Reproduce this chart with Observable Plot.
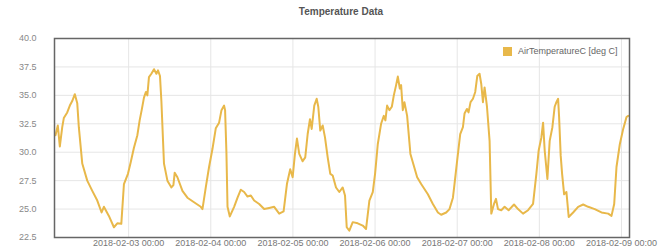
<!DOCTYPE html>
<html>
<head>
<meta charset="utf-8">
<script src="https://cdn.jsdelivr.net/npm/d3@7"></script>
<script src="https://cdn.jsdelivr.net/npm/@observablehq/plot@0.6"></script>
<style>
  html, body { margin: 0; padding: 0; background: #fff; }
  body { width: 663px; height: 250px; position: relative; overflow: hidden; font-family: "Liberation Sans", Arial, sans-serif; }
  #title { height: 28px; line-height: 24px; padding-left: 19px; text-align: center; font-size: 10px; font-weight: bold; color: #555; box-sizing: border-box; width: 663px; }
  #legend { position: absolute; top: 46px; left: 503px; display: flex; align-items: center; font-size: 9px; color: #666; }
  #legend .sw { width: 9px; height: 9px; background: #e8b84a; margin-right: 6px; }
</style>
</head>
<body>
<div id="title">Temperature Data</div>
<div id="chart"></div>
<div id="legend"><div class="sw"></div><span>AirTemperatureC [deg C]</span></div>
<script>
// Hours since 2018-02-02 00:00 (UTC)
const startDate = "2018-02-02T00:00:00Z";
const hours = [
  2.63, 3.31, 3.89, 4.60, 5.06, 6.06, 6.82, 7.52, 8.28, 8.99, 9.45, 10.45, 11.91, 13.38, 14.84,
  16.10, 16.77, 18.23, 19.70, 20.69, 21.86, 22.63, 23.80, 24.59, 25.55, 26.55, 27.22, 27.81, 28.48,
  29.06, 29.47, 29.94, 30.64, 31.41, 32.11, 32.58, 33.16, 33.57, 34.33, 35.33, 36.50, 37.08, 37.46,
  38.25, 39.72, 41.18, 43.11, 45.07, 45.57, 46.54, 47.50, 48.50, 49.46, 50.43, 51.13, 51.89, 52.18,
  52.57, 52.89, 53.56, 54.82, 55.82, 56.78, 57.75, 58.74, 59.71, 60.67, 62.14, 63.60, 65.07, 66.53,
  67.99, 69.28, 70.25, 71.21, 71.92, 72.59, 73.18, 73.85, 74.84, 75.60, 76.31, 76.98, 77.48, 78.24,
  78.94, 79.41, 79.99, 80.70, 81.37, 82.16, 82.92, 83.62, 84.59, 85.55, 86.55, 87.22, 87.72, 88.48,
  89.48, 90.94, 92.40, 93.37, 94.34, 95.33, 96.00, 96.79, 97.76, 98.55, 99.02, 99.52, 100.19, 100.90,
  101.48, 102.15, 102.65, 103.23, 103.61, 104.11, 104.58, 105.37, 106.33, 108.30, 109.47, 111.43,
  112.89, 114.36, 115.32, 116.79, 117.75, 118.75, 119.21, 120.00, 120.88, 121.67, 122.14, 122.84,
  123.31, 123.90, 124.60, 125.27, 125.86, 126.53, 127.03, 127.52, 128.00, 128.70, 129.46, 129.96,
  130.75, 131.33, 131.92, 132.88, 133.85, 135.02, 136.60, 137.77, 139.23, 140.70, 142.16, 143.13,
  143.80, 144.59, 145.09, 145.56, 146.35, 147.02, 147.81, 148.48, 148.98, 149.48, 149.77, 150.24,
  150.65, 151.24, 151.91, 152.58, 153.87, 155.33, 156.80, 158.26, 160.19, 162.15, 164.11, 165.08,
  165.87, 166.54, 167.51, 168.50, 169.47, 169.97
];
const airTemperatureC = [
  31.5, 32.35, 30.5, 32.2, 33.0, 33.5, 34.1, 34.5, 35.1, 34.3, 32.2, 29.0, 27.5, 26.6, 25.75,
  24.7, 25.2, 24.4, 23.4, 23.75, 23.7, 27.2, 28.1, 29.1, 30.4, 31.5, 32.8, 33.7, 34.8,
  35.3, 35.0, 36.6, 36.9, 37.3, 36.9, 37.2, 36.7, 34.5, 29.0, 27.5, 26.9, 27.1, 28.2,
  27.8, 26.6, 26.0, 25.6, 25.2, 25.0, 26.9, 28.7, 30.3, 32.1, 32.6, 33.7, 34.1, 33.7,
  30.0, 25.2, 24.35, 25.2, 26.0, 26.7, 26.5, 26.1, 26.2, 25.75, 25.45, 25.0, 25.1, 25.2,
  24.6, 24.8, 27.2, 28.5, 27.8, 29.85, 31.2, 29.85, 29.2, 29.55, 31.6, 32.9, 32.05, 34.1,
  34.7, 34.0, 31.9, 32.35, 31.3, 29.55, 28.1, 27.95, 26.9, 26.5, 26.9, 26.2, 23.4, 23.1,
  23.85, 23.75, 23.55, 23.25, 25.75, 26.5, 28.1, 30.7, 32.5, 33.2, 32.8, 34.1, 33.7, 34.0,
  35.0, 35.9, 36.65, 35.6, 35.9, 33.7, 34.4, 33.2, 29.85, 27.8, 27.2, 26.3,
  25.45, 24.7, 24.5, 24.7, 25.0, 26.0, 27.2, 29.3, 31.6, 32.2, 33.4, 33.8,
  33.5, 34.4, 34.7, 35.3, 36.7, 36.9, 36.0, 34.4, 35.7, 34.0, 31.0, 24.6,
  25.45, 25.9, 25.0, 24.9, 25.2, 24.9, 25.4, 25.0, 24.6, 24.9, 25.45, 28.1,
  30.15, 31.3, 32.6, 30.15, 27.65, 31.0, 32.2, 34.0, 34.4, 34.7, 33.1, 29.7,
  28.1, 26.3, 26.5, 24.3, 24.7, 25.2, 25.4, 25.2, 25.0, 24.7, 24.6, 24.4,
  25.45, 28.7, 30.7, 32.05, 33.1, 33.2
];
const yTicks = [22.5, 25.0, 27.5, 30.0, 32.5, 35.0, 37.5, 40.0];
const xDomainHours = [2.34, 170.34];

const base = new Date(startDate).getTime();
const toDate = h => new Date(base + h * 3600e3);
const data = hours.map((h, i) => ({time: toDate(h), value: airTemperatureC[i]}));
const xTicks = d3.utcDay.range(toDate(xDomainHours[0]), toDate(xDomainHours[1]));

const chart = Plot.plot({
  width: 663,
  height: 222,
  marginTop: 10,
  marginBottom: 13,
  marginLeft: 54,
  marginRight: 34,
  style: {fontFamily: "'Liberation Sans', Arial, sans-serif", fontSize: "9px", color: "#777", background: "#fff"},
  x: {type: "utc", domain: xDomainHours.map(toDate)},
  y: {domain: [22.5, 40]},
  marks: [
    Plot.gridX(xTicks, {stroke: "#e6e6e6", strokeOpacity: 1}),
    Plot.gridY(yTicks, {stroke: "#e6e6e6", strokeOpacity: 1}),
    Plot.axisX(xTicks, {tickSize: 0, tickPadding: 2, tickFormat: d3.utcFormat("%Y-%m-%d %H:%M"), fill: "#777", label: null}),
    Plot.axisY(yTicks, {tickSize: 0, tickPadding: 18, tickFormat: d3.format(".1f"), fill: "#888", label: null}),
    Plot.line(data, {x: "time", y: "value", stroke: "#e8b84a", strokeWidth: 2, strokeLinejoin: "round"}),
    Plot.frame({stroke: "#666", strokeWidth: 1.5})
  ]
});
document.getElementById("chart").appendChild(chart);
</script>
</body>
</html>
